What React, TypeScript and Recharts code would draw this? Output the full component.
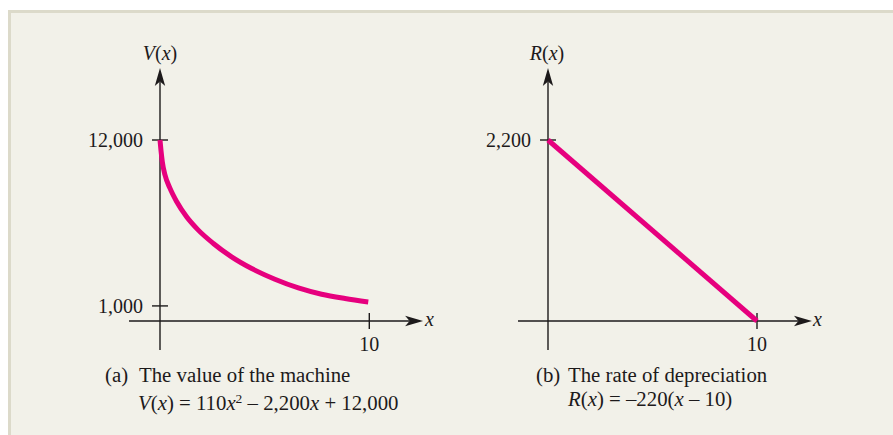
import React, { useEffect } from 'react';
import { LineChart, Line, XAxis, YAxis, ReferenceLine } from 'recharts';

// ---- Data ----
const valueX = [0, 0.05, 0.11, 0.24, 0.48, 0.8, 1.27, 1.83, 2.55, 3.42, 4.38, 5.49, 6.61, 7.72, 8.84, 9.95];
const valueV = [12000, 11270, 10560, 9680, 8792, 7906, 6910, 6025, 5141, 4255, 3481, 2772, 2195, 1776, 1490, 1260];

const rateX = [0, 10];
const rateR = [2200, 0];

const xTicks = [10];
const valueTicks = [1000, 12000];
const rateTicks = [2200];

const valueData = valueX.map((x, i) => ({ x, y: valueV[i] }));
const rateData = rateX.map((x, i) => ({ x, y: rateR[i] }));

const PINK = '#e6007e';
const INK = '#1d1a1b';
const FONT = '"Liberation Serif", "Times New Roman", serif';

function ArrowShape(props: any) {
  const { x1, y1, x2, y2 } = props;
  const ang = Math.atan2(y2 - y1, x2 - x1);
  const L = 18;
  const W = 5.2;
  const N = 13.5;
  const c = Math.cos(ang);
  const s = Math.sin(ang);
  const pt = (a: number, b: number) => `${x2 + a * c - b * s},${y2 + a * s + b * c}`;
  return (
    <g>
      <line x1={x1} y1={y1} x2={x2 - N * c} y2={y2 - N * s} stroke={INK} strokeWidth={1.4} />
      <polygon points={[pt(0, 0), pt(-L, -W), pt(-N, 0), pt(-L, W)].join(' ')} fill={INK} />
    </g>
  );
}

type PanelProps = {
  data: { x: number; y: number }[];
  left: number;
  top: number;
  width: number;
  height: number;
  yWidth: number;
  marginRight: number;
  yMax: number;
  yTicks: number[];
  xAxisFrom: number;
  xAxisTo: number;
  yAxisFrom: number;
  yAxisTo: number;
  curved: boolean;
};

function Panel(p: PanelProps) {
  const xHalf = 0.382; // half tick length in x units (about 8px)
  const yHalf = (p.yMax / 181) * 8; // half tick length in y units (about 8px)
  return (
    <div style={{ position: 'absolute', left: p.left, top: p.top }}>
      <LineChart
        width={p.width}
        height={p.height}
        data={p.data}
        margin={{ top: 100, right: p.marginRight, bottom: 9, left: 0 }}
      >
        <XAxis
          type="number"
          dataKey="x"
          domain={[0, 10]}
          ticks={xTicks}
          axisLine={false}
          tickLine={false}
          tickSize={8}
          tickMargin={8}
          height={30}
          tick={{ fill: INK, fontSize: 20, fontFamily: FONT }}
        />
        <YAxis
          type="number"
          domain={[0, p.yMax]}
          ticks={p.yTicks}
          axisLine={false}
          tickLine={false}
          tickSize={8}
          tickMargin={9}
          width={p.yWidth}
          tickFormatter={(v: number) => v.toLocaleString('en-US')}
          tick={{ fill: INK, fontSize: 20, fontFamily: FONT }}
        />
        <ReferenceLine
          segment={[{ x: p.xAxisFrom, y: 0 }, { x: p.xAxisTo, y: 0 }]}
          ifOverflow="visible"
          shape={ArrowShape}
        />
        <ReferenceLine
          segment={[{ x: 0, y: p.yAxisFrom }, { x: 0, y: p.yAxisTo }]}
          ifOverflow="visible"
          shape={ArrowShape}
        />
        {p.yTicks.map((t) => (
          <ReferenceLine
            key={'yt' + t}
            segment={[{ x: -xHalf, y: t }, { x: xHalf, y: t }]}
            ifOverflow="visible"
            stroke={INK}
            strokeWidth={1.4}
          />
        ))}
        {xTicks.map((t) => (
          <ReferenceLine
            key={'xt' + t}
            segment={[{ x: t, y: -yHalf }, { x: t, y: yHalf }]}
            ifOverflow="visible"
            stroke={INK}
            strokeWidth={1.4}
          />
        ))}
        <Line
          type={p.curved ? 'monotone' : 'linear'}
          dataKey="y"
          stroke={PINK}
          strokeWidth={5}
          dot={false}
          activeDot={false}
          isAnimationActive={false}
        />
      </LineChart>
    </div>
  );
}

const textStyle: React.CSSProperties = {
  position: 'absolute',
  fontFamily: FONT,
  fontSize: 20,
  lineHeight: '24px',
  color: INK,
  whiteSpace: 'nowrap',
};

function T({
  left,
  top,
  children,
  center,
  size,
}: {
  left: number;
  top: number;
  children: React.ReactNode;
  center?: boolean;
  size?: number;
}) {
  const fs = size ?? 20;
  if (center) {
    return (
      <div style={{ ...textStyle, fontSize: fs, left: left - 60, top, width: 120, textAlign: 'center' }}>
        {children}
      </div>
    );
  }
  return <div style={{ ...textStyle, fontSize: fs, left, top }}>{children}</div>;
}

const I = ({ children }: { children: React.ReactNode }) => <i>{children}</i>;

export default function App() {
  useEffect(() => {
    document.documentElement.style.overflow = 'hidden';
    document.body.style.overflow = 'hidden';
  }, []);
  const cap = 20.8;
  return (
    <div>
      <div
        style={{
          position: 'absolute',
          left: 8,
          top: 10,
          width: 885,
          height: 425,
          boxSizing: 'border-box',
          borderTop: '3.5px solid #dcdaca',
          borderLeft: '3.5px solid #dcdaca',
          background: '#f2f1e9',
        }}
      />
      <Panel
        data={valueData}
        left={30}
        top={40}
        width={405}
        height={320}
        yWidth={130}
        marginRight={65.7}
        yMax={12000}
        yTicks={valueTicks}
        xAxisFrom={-1.48}
        xAxisTo={12.57}
        yAxisFrom={-1923}
        yAxisTo={16773}
        curved={true}
      />
      <Panel
        data={rateData}
        left={440}
        top={40}
        width={400}
        height={320}
        yWidth={108}
        marginRight={83}
        yMax={2200}
        yTicks={rateTicks}
        xAxisFrom={-1.435}
        xAxisTo={12.63}
        yAxisFrom={-352}
        yAxisTo={3075}
        curved={false}
      />

      <T left={160} top={41} center>
        <I>V</I>(<I>x</I>)
      </T>
      <T left={547} top={41} center>
        <I>R</I>(<I>x</I>)
      </T>
      <T left={425} top={307}>
        <I>x</I>
      </T>
      <T left={813} top={307}>
        <I>x</I>
      </T>

      <T left={105} top={363} size={cap}>(a)</T>
      <T left={139} top={363} size={cap}>The value of the machine</T>
      <T left={138} top={387} size={cap}>
        <I>V</I>(<I>x</I>) = 110<I>x</I>
        <span style={{ fontSize: 13.5, verticalAlign: '7px' }}>2</span> – 2,200<I>x</I> + 12,000
      </T>

      <T left={536} top={363} size={cap}>(b)</T>
      <T left={568} top={363} size={cap}>The rate of depreciation</T>
      <T left={568} top={387} size={cap}>
        <I>R</I>(<I>x</I>) = –220(<I>x</I> – 10)
      </T>
    </div>
  );
}
